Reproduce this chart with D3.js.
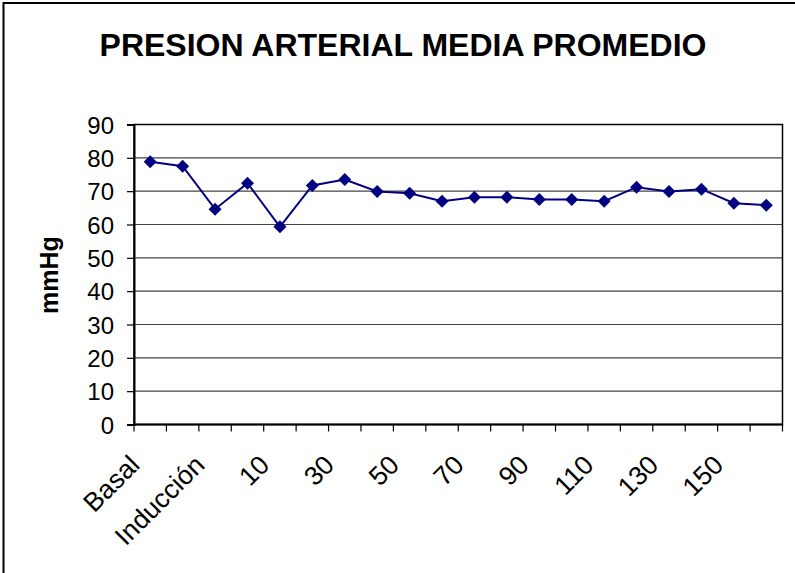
<!DOCTYPE html>
<html>
<head>
<meta charset="utf-8">
<script src="https://cdn.jsdelivr.net/npm/d3@7"></script>
<style>
  body { margin: 0; background: #fff; }
  text { font-family: "Liberation Sans", Arial, sans-serif; fill: #000; }
</style>
</head>
<body>
<div id="chart"></div>
<script>
// data
var categories = ["Basal", "Premedicación", "Inducción", "5", "10", "20", "30", "40", "50", "60",
                  "70", "80", "90", "100", "110", "120", "130", "140", "150", "160"];
var tickLabels = ["Basal", "Inducción", "10", "30", "50", "70", "90", "110", "130", "150"];
var pamValues = [78.8, 77.5, 64.6, 72.4, 59.3, 71.7, 73.5, 69.9, 69.4, 67.0,
                 68.2, 68.2, 67.5, 67.5, 67.0, 71.2, 69.9, 70.6, 66.4, 65.8];
var yTicks = [0, 10, 20, 30, 40, 50, 60, 70, 80, 90];

var svgWidth = 795;
var svgHeight = 573;

var margin = { top: 124.5, bottom: 148.5, left: 134, right: 12.5 };
var width = svgWidth - margin.left - margin.right;
var height = svgHeight - margin.top - margin.bottom;

var svg = d3.select("#chart")
  .append("svg")
  .attr("width", svgWidth)
  .attr("height", svgHeight);

// outer frame (only top and left visible)
svg.append("rect")
  .attr("x", 3.5).attr("y", 3)
  .attr("width", 820).attr("height", 600)
  .attr("fill", "none")
  .attr("stroke", "#000")
  .attr("stroke-width", 2);

svg.append("text")
  .attr("x", 403)
  .attr("y", 56)
  .attr("text-anchor", "middle")
  .attr("font-size", "32px")
  .attr("font-weight", "bold")
  .text("PRESION ARTERIAL MEDIA PROMEDIO");

var chartGroup = svg.append("g")
  .attr("transform", `translate(${margin.left}, ${margin.top})`);

var xScale = d3.scaleBand()
  .domain(categories)
  .range([0, width]);

var yScale = d3.scaleLinear()
  .domain([0, 90])
  .range([height, 0]);

// gridlines
chartGroup.selectAll(".grid")
  .data(yTicks.slice(1))
  .enter()
  .append("line")
  .attr("x1", 0).attr("x2", width)
  .attr("y1", d => yScale(d)).attr("y2", d => yScale(d))
  .attr("stroke", "#444")
  .attr("stroke-width", 1.2);

// plot border
chartGroup.append("rect")
  .attr("width", width).attr("height", height)
  .attr("fill", "none")
  .attr("stroke", "#000")
  .attr("stroke-width", 1.5);

var yAxis = d3.axisLeft(yScale).tickValues(yTicks).tickSize(7).tickPadding(13);
var yG = chartGroup.append("g").call(yAxis);
yG.select(".domain").attr("stroke-width", 2);
yG.selectAll(".tick line").attr("stroke-width", 1.2);
yG.selectAll("text")
  .attr("font-size", "24px")
  .attr("dy", "0.36em")
  .attr("font-family", "Liberation Sans, Arial, sans-serif");

// x ticks between categories
var xG = chartGroup.append("g")
  .attr("transform", `translate(0, ${height})`);
xG.append("line")
  .attr("x1", 0).attr("x2", width)
  .attr("stroke", "#000").attr("stroke-width", 2);
xG.selectAll(".xt")
  .data(categories.concat(["end"]))
  .enter()
  .append("line")
  .attr("x1", (d, i) => i * xScale.step())
  .attr("x2", (d, i) => i * xScale.step())
  .attr("y1", 0).attr("y2", 7)
  .attr("stroke", "#000").attr("stroke-width", 1.2);

xG.selectAll(".xlab")
  .data(categories.filter(c => tickLabels.includes(c)))
  .enter()
  .append("text")
  .attr("font-size", "26.5px")
  .attr("text-anchor", "end")
  .attr("transform", d => `translate(${xScale(d) + xScale.bandwidth() / 2 - 9}, 42) rotate(-45)`)
  .text(d => d);

// y label
svg.append("text")
  .attr("transform", "translate(58, 275) rotate(-90)")
  .attr("text-anchor", "middle")
  .attr("font-size", "25px")
  .attr("font-weight", "bold")
  .text("mmHg");

// line and markers
var line = d3.line()
  .x((d, i) => xScale(categories[i]) + xScale.bandwidth() / 2)
  .y(d => yScale(d));

chartGroup.append("path")
  .datum(pamValues)
  .attr("d", line)
  .attr("fill", "none")
  .attr("stroke", "#000080")
  .attr("stroke-width", 2);

chartGroup.selectAll(".marker")
  .data(pamValues)
  .enter()
  .append("path")
  .attr("d", "M0,-6.5L6.5,0L0,6.5L-6.5,0Z")
  .attr("transform", (d, i) => `translate(${xScale(categories[i]) + xScale.bandwidth() / 2}, ${yScale(d)})`)
  .attr("fill", "#000080");
</script>
</body>
</html>
